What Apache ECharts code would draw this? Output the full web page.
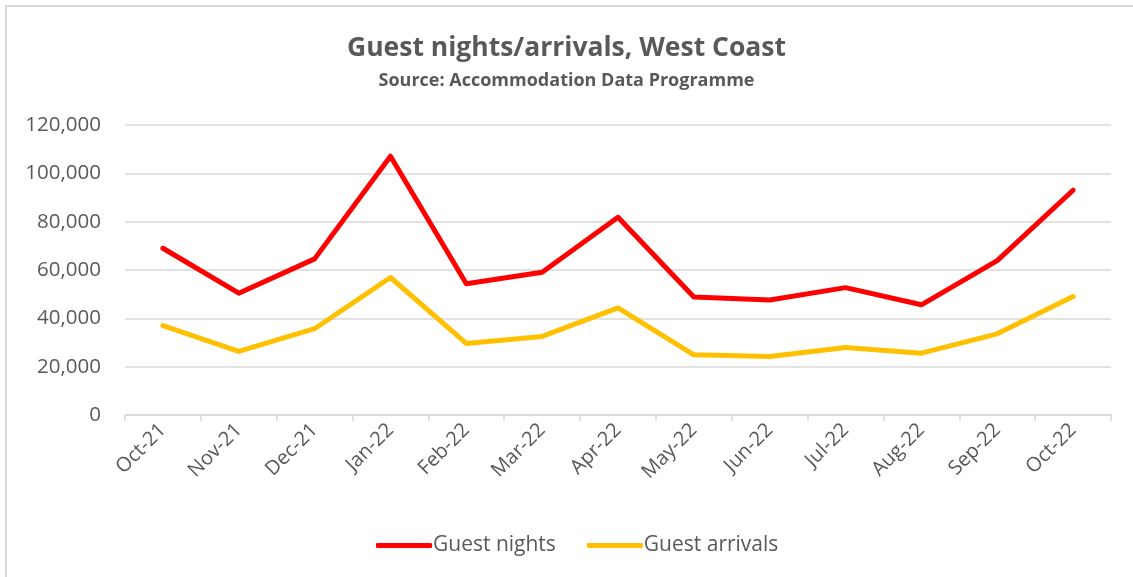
<!DOCTYPE html>
<html>
<head>
<meta charset="utf-8">
<style>
  html, body { margin: 0; padding: 0; background: #fff; }
  #chart { width: 1133px; height: 577px; }
</style>
<script src="https://cdn.jsdelivr.net/npm/echarts@6.0.0/dist/echarts.min.js"></script>
</head>
<body>
<div id="chart"></div>
<script>
// Data
const months = ['Oct-21', 'Nov-21', 'Dec-21', 'Jan-22', 'Feb-22', 'Mar-22', 'Apr-22',
                'May-22', 'Jun-22', 'Jul-22', 'Aug-22', 'Sep-22', 'Oct-22'];
const guestNights = [69000, 50400, 64600, 107100, 54300, 59100, 81800,
                     48800, 47600, 52700, 45600, 63900, 93000];
const guestArrivals = [37000, 26300, 35700, 56900, 29600, 32500, 44300,
                       24900, 24200, 27900, 25600, 33600, 49000];

const FONT = '"Open Sans", "Liberation Sans", sans-serif';
const TEXT = '#595959';

const chart = echarts.init(document.getElementById('chart'), null, { renderer: 'canvas' });

chart.setOption({
    backgroundColor: '#fff',
    animation: false,
    textStyle: { fontFamily: FONT },
    graphic: [{
        type: 'rect',
        shape: { x: 6, y: 6, width: 1140, height: 590 },
        style: { fill: 'none', stroke: '#d9d9d9', lineWidth: 2 },
        silent: true
    }],
    title: {
        text: 'Guest nights/arrivals, West Coast',
        subtext: 'Source: Accommodation Data Programme',
        left: 'center',
        top: 30,
        itemGap: 10,
        textStyle: { color: TEXT, fontSize: 26.5, fontWeight: 'bold', fontFamily: FONT },
        subtextStyle: { color: TEXT, fontSize: 18, fontWeight: 'bold', fontFamily: FONT }
    },
    legend: {
        bottom: 16,
        left: 371,
        itemWidth: 56,
        itemHeight: 5,
        itemGap: 31,
        icon: 'roundRect',
        textStyle: { color: TEXT, fontSize: 21, fontFamily: FONT, padding: [0, 0, 0, -4] },
        data: ['Guest nights', 'Guest arrivals']
    },
    grid: { left: 125, right: 22, top: 125, bottom: 162, containLabel: false },
    xAxis: {
        type: 'category',
        data: months,
        boundaryGap: true,
        axisLine: { lineStyle: { color: '#d9d9d9', width: 1.5 } },
        axisTick: { show: true, alignWithLabel: false, length: 6, lineStyle: { color: '#d9d9d9', width: 1.5 } },
        axisLabel: { color: TEXT, fontSize: 20, rotate: 45, margin: 12, interval: 0, fontFamily: FONT }
    },
    yAxis: {
        type: 'value',
        min: 0,
        max: 120000,
        interval: 20000,
        axisLine: { show: false },
        axisTick: { show: false },
        axisLabel: {
            color: TEXT, fontSize: 20.5, margin: 24, fontFamily: FONT,
            formatter: v => v.toLocaleString('en-US')
        },
        splitLine: { lineStyle: { color: '#d9d9d9', width: 1.5 } }
    },
    series: [
        {
            name: 'Guest nights',
            type: 'line',
            data: guestNights,
            showSymbol: false,
            symbol: 'none',
            lineStyle: { color: '#ff0000', width: 5, cap: 'round', join: 'round' },
            itemStyle: { color: '#ff0000' }
        },
        {
            name: 'Guest arrivals',
            type: 'line',
            data: guestArrivals,
            showSymbol: false,
            symbol: 'none',
            lineStyle: { color: '#ffc000', width: 5, cap: 'round', join: 'round' },
            itemStyle: { color: '#ffc000' }
        }
    ]
});
</script>
</body>
</html>
